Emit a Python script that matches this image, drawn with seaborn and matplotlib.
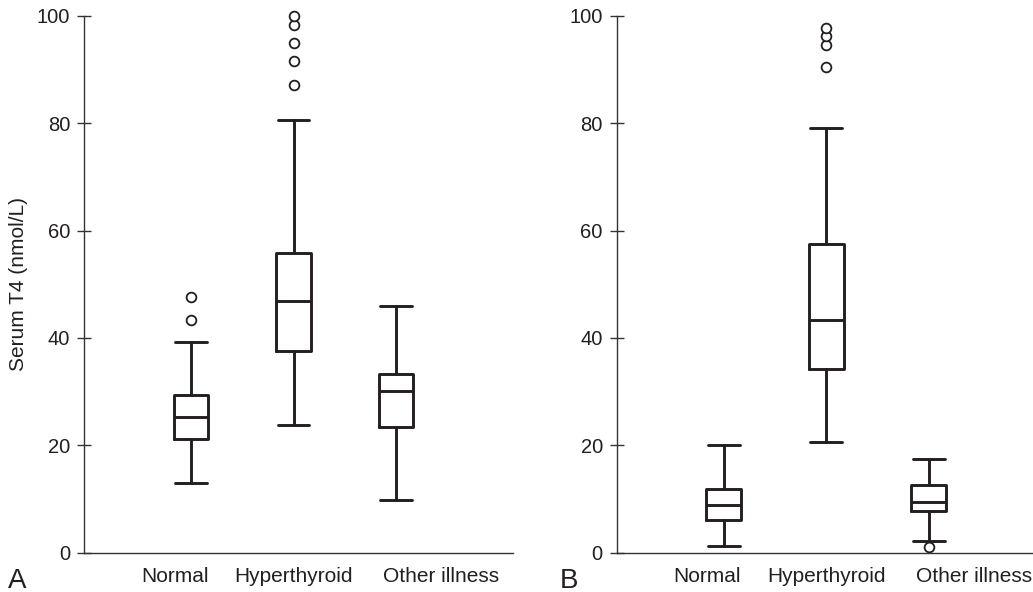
import matplotlib
matplotlib.use("Agg")
import matplotlib.pyplot as plt
import seaborn as sns

# groups and tick labels
groups = ["Normal", "Hyperthyroid", "Other illness"]

# panel A box statistics (serum T4, nmol/L)
a_whislo = [12.9, 23.7, 9.9]
a_q1 = [21.1, 37.6, 23.4]
a_med = [25.3, 46.9, 30.2]
a_q3 = [29.4, 55.9, 33.2]
a_whishi = [39.2, 80.5, 45.9]
a_fliers = [[43.3, 47.6], [87.1, 91.6, 95.0, 98.3, 100.0], []]

# panel B box statistics
b_whislo = [1.3, 20.7, 2.2]
b_q1 = [6.1, 34.3, 7.8]
b_med = [8.9, 43.3, 9.5]
b_q3 = [11.9, 57.4, 12.6]
b_whishi = [20.0, 79.1, 17.5]
b_fliers = [[], [90.4, 94.5, 96.2, 97.8], [1.0]]

sns.set_style("ticks")
plt.rcParams['font.family'] = ['Liberation Sans', 'DejaVu Sans']

INK = "#231f20"
AXC = "#333333"


def make_stats(lo, q1, med, q3, hi, fl):
    out = []
    for i, g in enumerate(groups):
        out.append({"label": g, "whislo": lo[i], "q1": q1[i], "med": med[i],
                    "q3": q3[i], "whishi": hi[i], "fliers": fl[i]})
    return out


def draw_panel(ax, stats):
    line = dict(color=INK, linewidth=2.1)
    parts = ax.bxp(stats, positions=[0, 1, 2], widths=0.34, capwidths=0.31,
                   boxprops=line, whiskerprops=line, capprops=line,
                   medianprops=line,
                   flierprops=dict(marker="o", markerfacecolor="white",
                                   markeredgecolor=INK, markersize=7,
                                   markeredgewidth=1.3, linestyle="none"),
                   patch_artist=False, manage_ticks=False)
    for f in parts["fliers"]:
        f.set_clip_on(False)
    ax.set_xlim(-1.044, 3.141)
    ax.set_ylim(0, 100)
    ax.set_yticks([0, 20, 40, 60, 80, 100])
    # labels sit a bit off the box centres in the original
    ax.set_xticks([-0.16, 1, 2.44])
    ax.set_xticklabels(groups)
    ax.tick_params(axis="x", length=0, pad=10, labelsize=15, colors=INK)
    ax.tick_params(axis="y", direction="inout", length=10, width=1.0,
                   pad=5, labelsize=14.5, colors=AXC, labelcolor=INK)
    sns.despine(ax=ax)
    for s in ["left", "bottom"]:
        ax.spines[s].set_linewidth(1.0)
        ax.spines[s].set_color(AXC)
    ax.set_facecolor("white")


fig = plt.figure(figsize=(10.33, 5.92), dpi=100)
fig.patch.set_facecolor("white")
W, H = 1033.0, 592.0
axA = fig.add_axes([84 / W, 39.3 / H, 429 / W, 537 / H])
axB = fig.add_axes([616.7 / W, 39.3 / H, 429 / W, 537 / H])

draw_panel(axA, make_stats(a_whislo, a_q1, a_med, a_q3, a_whishi, a_fliers))
draw_panel(axB, make_stats(b_whislo, b_q1, b_med, b_q3, b_whishi, b_fliers))

axA.set_ylabel("Serum T4 (nmol/L)", fontsize=15, color=INK)
axA.yaxis.set_label_coords(-0.13, 0.5)

fig.text(8 / W, 4 / H, "A", fontsize=20, color=INK, va="baseline")
fig.text(560 / W, 4 / H, "B", fontsize=20, color=INK, va="baseline")

fig.savefig("out.png", dpi=100, facecolor="white")
